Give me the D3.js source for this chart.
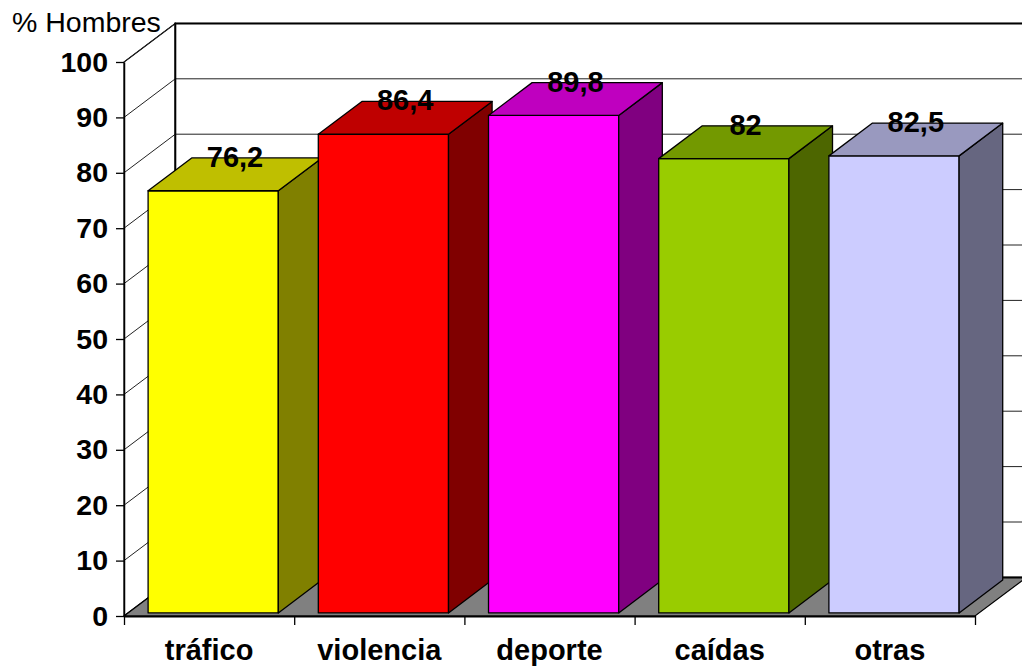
<!DOCTYPE html>
<html>
<head>
<meta charset="utf-8">
<script src="https://cdn.jsdelivr.net/npm/d3@7"></script>
<style>
  html, body { margin: 0; padding: 0; background: #fff; }
  svg { display: block; font-family: Arial, "Liberation Sans", sans-serif; }
</style>
</head>
<body>
<svg id="chart" width="1022" height="667"></svg>
<script>
// Share of men by injury cause
const categories = ["tráfico", "violencia", "deporte", "caídas", "otras"];
const values = [76.2, 86.4, 89.8, 82, 82.5];
const yTicks = [0, 10, 20, 30, 40, 50, 60, 70, 80, 90, 100];
const barColors = ["#FFFF00", "#FF0000", "#FF00FF", "#99CC00", "#CCCCFF"];
const axisTitle = "% Hombres";

(function () {
const svg = d3.select("#chart");

// Front plane of the 3-D box
const plotLeft = 124, plotRight = 975, plotBottom = 616, plotTop = 62;
// Oblique offset of the back plane
const DX = 51.3, DY = 38.6;
// Depth range occupied by each column (0 = front, 1 = back wall)
const D0 = 0.08, D1 = 0.93;

const y = d3.scaleLinear().domain([0, 100]).range([plotBottom, plotTop]);
const x = d3.scaleBand().domain(categories).range([plotLeft, plotRight])
  .paddingInner(0.235).paddingOuter(0.1175);
const xEdge = d3.scaleLinear().domain([0, categories.length]).range([plotLeft, plotRight]);

const P = (px, py, d) => [px + d * DX, py - d * DY];
const poly = pts => "M" + pts.map(p => p.join(",")).join("L") + "Z";

const fmt = d3.formatLocale({ decimal: ",", thousands: ".", grouping: [3], currency: ["", "€"] }).format("~g");

// Walls
svg.append("path")
  .attr("d", poly([P(plotLeft, y(0), 0), P(plotLeft, y(0), 1), P(plotLeft, y(100), 1), P(plotLeft, y(100), 0)]))
  .attr("fill", "#fff").attr("stroke", "#000").attr("stroke-width", 1.2);
svg.append("path")
  .attr("d", poly([P(plotLeft, y(0), 1), P(plotRight, y(0), 1), P(plotRight, y(100), 1), P(plotLeft, y(100), 1)]))
  .attr("fill", "#fff").attr("stroke", "none");

// Gridlines on the side wall and back wall
const grid = svg.append("g").attr("stroke", "#222").attr("stroke-width", 1).attr("fill", "none");
yTicks.filter(t => t > 0).forEach(t => {
  const a = P(plotLeft, y(t), 0), b = P(plotLeft, y(t), 1), c = P(plotRight, y(t), 1);
  grid.append("path").attr("d", `M${a}L${b}L${c}`);
});
// Back wall outline
svg.append("path")
  .attr("d", `M${P(plotLeft, y(0), 1)}L${P(plotLeft, y(100), 1)}L${P(plotRight, y(100), 1)}`)
  .attr("fill", "none").attr("stroke", "#000").attr("stroke-width", 2);

// Floor
svg.append("path")
  .attr("d", poly([P(plotLeft, y(0), 0), P(plotRight, y(0), 0), P(plotRight, y(0), 1), P(plotLeft, y(0), 1)]))
  .attr("fill", "#808080").attr("stroke", "#000").attr("stroke-width", 1.2);
svg.append("path")
  .attr("d", `M${P(plotLeft, y(0), 1)}L${P(plotRight, y(0), 1)}`)
  .attr("stroke", "#000").attr("stroke-width", 2);

// Columns
const shade = (c, k) => { const r = d3.rgb(c); return d3.rgb(r.r * k, r.g * k, r.b * k).formatHex(); };
const bars = svg.append("g").attr("stroke", "#000").attr("stroke-width", 1.3).attr("stroke-linejoin", "round");
categories.forEach((c, i) => {
  const x0 = x(c), x1 = x(c) + x.bandwidth();
  const y0 = y(0), yv = y(values[i]);
  const g = bars.append("g");
  g.append("path").attr("fill", barColors[i])
    .attr("d", poly([P(x0, y0, D0), P(x1, y0, D0), P(x1, yv, D0), P(x0, yv, D0)]));
  g.append("path").attr("fill", shade(barColors[i], 0.5))
    .attr("d", poly([P(x1, y0, D0), P(x1, y0, D1), P(x1, yv, D1), P(x1, yv, D0)]));
  g.append("path").attr("fill", shade(barColors[i], 0.75))
    .attr("d", poly([P(x0, yv, D0), P(x1, yv, D0), P(x1, yv, D1), P(x0, yv, D1)]));
});

// Value labels above each column
const dm = (D0 + D1) / 2;
svg.append("g").selectAll("text").data(values).join("text")
  .attr("x", (v, i) => x(categories[i]) + x.bandwidth() / 2 + dm * DX)
  .attr("y", v => y(v) - dm * DY - 7.5)
  .attr("text-anchor", "middle")
  .attr("font-size", 29).attr("font-weight", "bold").attr("fill", "#000")
  .text(v => fmt(v));

// Value axis on the front edge
const yAxis = svg.append("g").attr("transform", `translate(${plotLeft},0)`)
  .call(d3.axisLeft(y).tickValues(yTicks).tickSize(8).tickSizeOuter(0).tickPadding(8));
yAxis.select(".domain").attr("stroke", "#000").attr("stroke-width", 1.5);
yAxis.selectAll(".tick line").attr("stroke", "#000").attr("stroke-width", 1.3);
yAxis.selectAll("text").attr("font-size", 28.5).attr("font-weight", "bold")
  .attr("font-family", "Arial, 'Liberation Sans', sans-serif").attr("fill", "#000");

// Category axis: ticks at band edges, labels at band centres
const xTicks = svg.append("g").attr("transform", `translate(0,${plotBottom})`)
  .call(d3.axisBottom(xEdge).tickValues(d3.range(categories.length + 1)).tickSize(9).tickSizeOuter(0).tickFormat(""));
xTicks.select(".domain").attr("stroke", "#000").attr("stroke-width", 2.2);
xTicks.selectAll(".tick line").attr("stroke", "#000").attr("stroke-width", 1.3);

const xCenter = d3.scaleBand().domain(categories).range([plotLeft, plotRight]);
const xLabels = svg.append("g").attr("transform", `translate(0,${plotBottom})`)
  .call(d3.axisBottom(xCenter).tickSize(0).tickPadding(23));
xLabels.select(".domain").remove();
xLabels.selectAll("text").attr("font-size", 29).attr("font-weight", "bold")
  .attr("font-family", "Arial, 'Liberation Sans', sans-serif").attr("fill", "#000");

// Axis title
svg.append("text").attr("x", 12).attr("y", 32)
  .attr("font-size", 28.5).attr("fill", "#000")
  .text(axisTitle);
})();
</script>
</body>
</html>
